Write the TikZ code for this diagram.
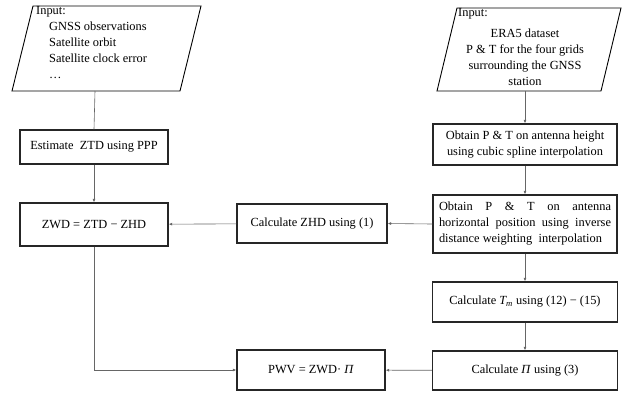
\documentclass[tikz,border=0pt]{standalone}
\usepackage{fontspec}
\setmainfont{Liberation Serif}
\usetikzlibrary{arrows.meta}
\begin{document}
\begin{tikzpicture}[x=1pt,y=-1pt,
  every node/.style={font=\fontsize{12.4}{16}\selectfont},
  box/.style={draw=black!85,line width=1.4pt,inner sep=0pt,align=center},
  para/.style={draw=black,line width=0.9pt},
  conn/.style={draw=black!60,line width=0.6pt},
  arr/.style={conn,-{Latex[length=3.5pt,width=3pt]}}]
\useasboundingbox (0,0) rectangle (642,392);
% input parallelograms
\draw[para] (33,6) -- (201,6) -- (180,91) -- (12,91) -- cycle;
\draw[para] (457,8) -- (621,8) -- (601,91) -- (437,91) -- cycle;
\coordinate (in1b) at (95,91);
\coordinate (in2b) at (525,91);
\node[anchor=north west,inner sep=0pt,align=left] (in1txt) at (36,6)
  {Input:\\
   \hspace{13pt}GNSS observations\\
   \hspace{13pt}Satellite orbit\\
   \hspace{13pt}Satellite clock error\\
   \hspace{13pt}\dots};
\node[anchor=north west,inner sep=0pt] (in2lbl) at (458,8) {Input:};
\node[inner sep=0pt,align=center] (in2txt) at (525,57)
  {ERA5 dataset\\ P \& T for the four grids\\ surrounding the GNSS\\ station};
% boxes
\node[box,minimum width=148pt,minimum height=34pt] (est) at (94,147) {Estimate\ \ ZTD using PPP};
\node[box,minimum width=148pt,minimum height=43pt] (zwd) at (94,224.5) {ZWD = ZTD − ZHD};
\node[box,minimum width=150pt,minimum height=39pt] (zhd) at (312,223.5) {Calculate ZHD using (1)};
\node[box,minimum width=184pt,minimum height=41pt] (h1) at (525,144.5) {Obtain P \& T on antenna height\\ using cubic spline interpolation};
\node[box,minimum width=184pt,minimum height=58pt] (h2) at (525,224)
  {\makebox[172pt][s]{Obtain P \& T on antenna}\\
   \makebox[172pt][s]{horizontal position using inverse}\\
   \makebox[172pt][l]{\makebox[163pt][s]{distance weighting\ \ interpolation}}};
\node[box,minimum width=185pt,minimum height=40pt] (tm) at (525,302) {Calculate \textit{T\textsubscript{m}} using (12) − (15)};
\node[box,minimum width=185pt,minimum height=39pt] (pi) at (525,370.5) {Calculate \textit{Π} using (3)};
\node[box,minimum width=148pt,minimum height=40pt] (pwv) at (311,370) {PWV = ZWD· \textit{Π}};
% connectors
\draw[conn] (in1b) -- (est.north);
\draw[arr] (est) -- (zwd);
\draw[arr] (zwd.south) |- (pwv.west);
\draw[arr] (in2b) -- (h1.north);
\draw[arr] (h1) -- (h2);
\draw[arr] (h2) -- (tm);
\draw[arr] (tm) -- (pi);
\draw[arr] (h2.west) -- (zhd.east);
\draw[arr] (zhd) -- (zwd);
\draw[arr] (pi) -- (pwv);
\end{tikzpicture}
\end{document}
